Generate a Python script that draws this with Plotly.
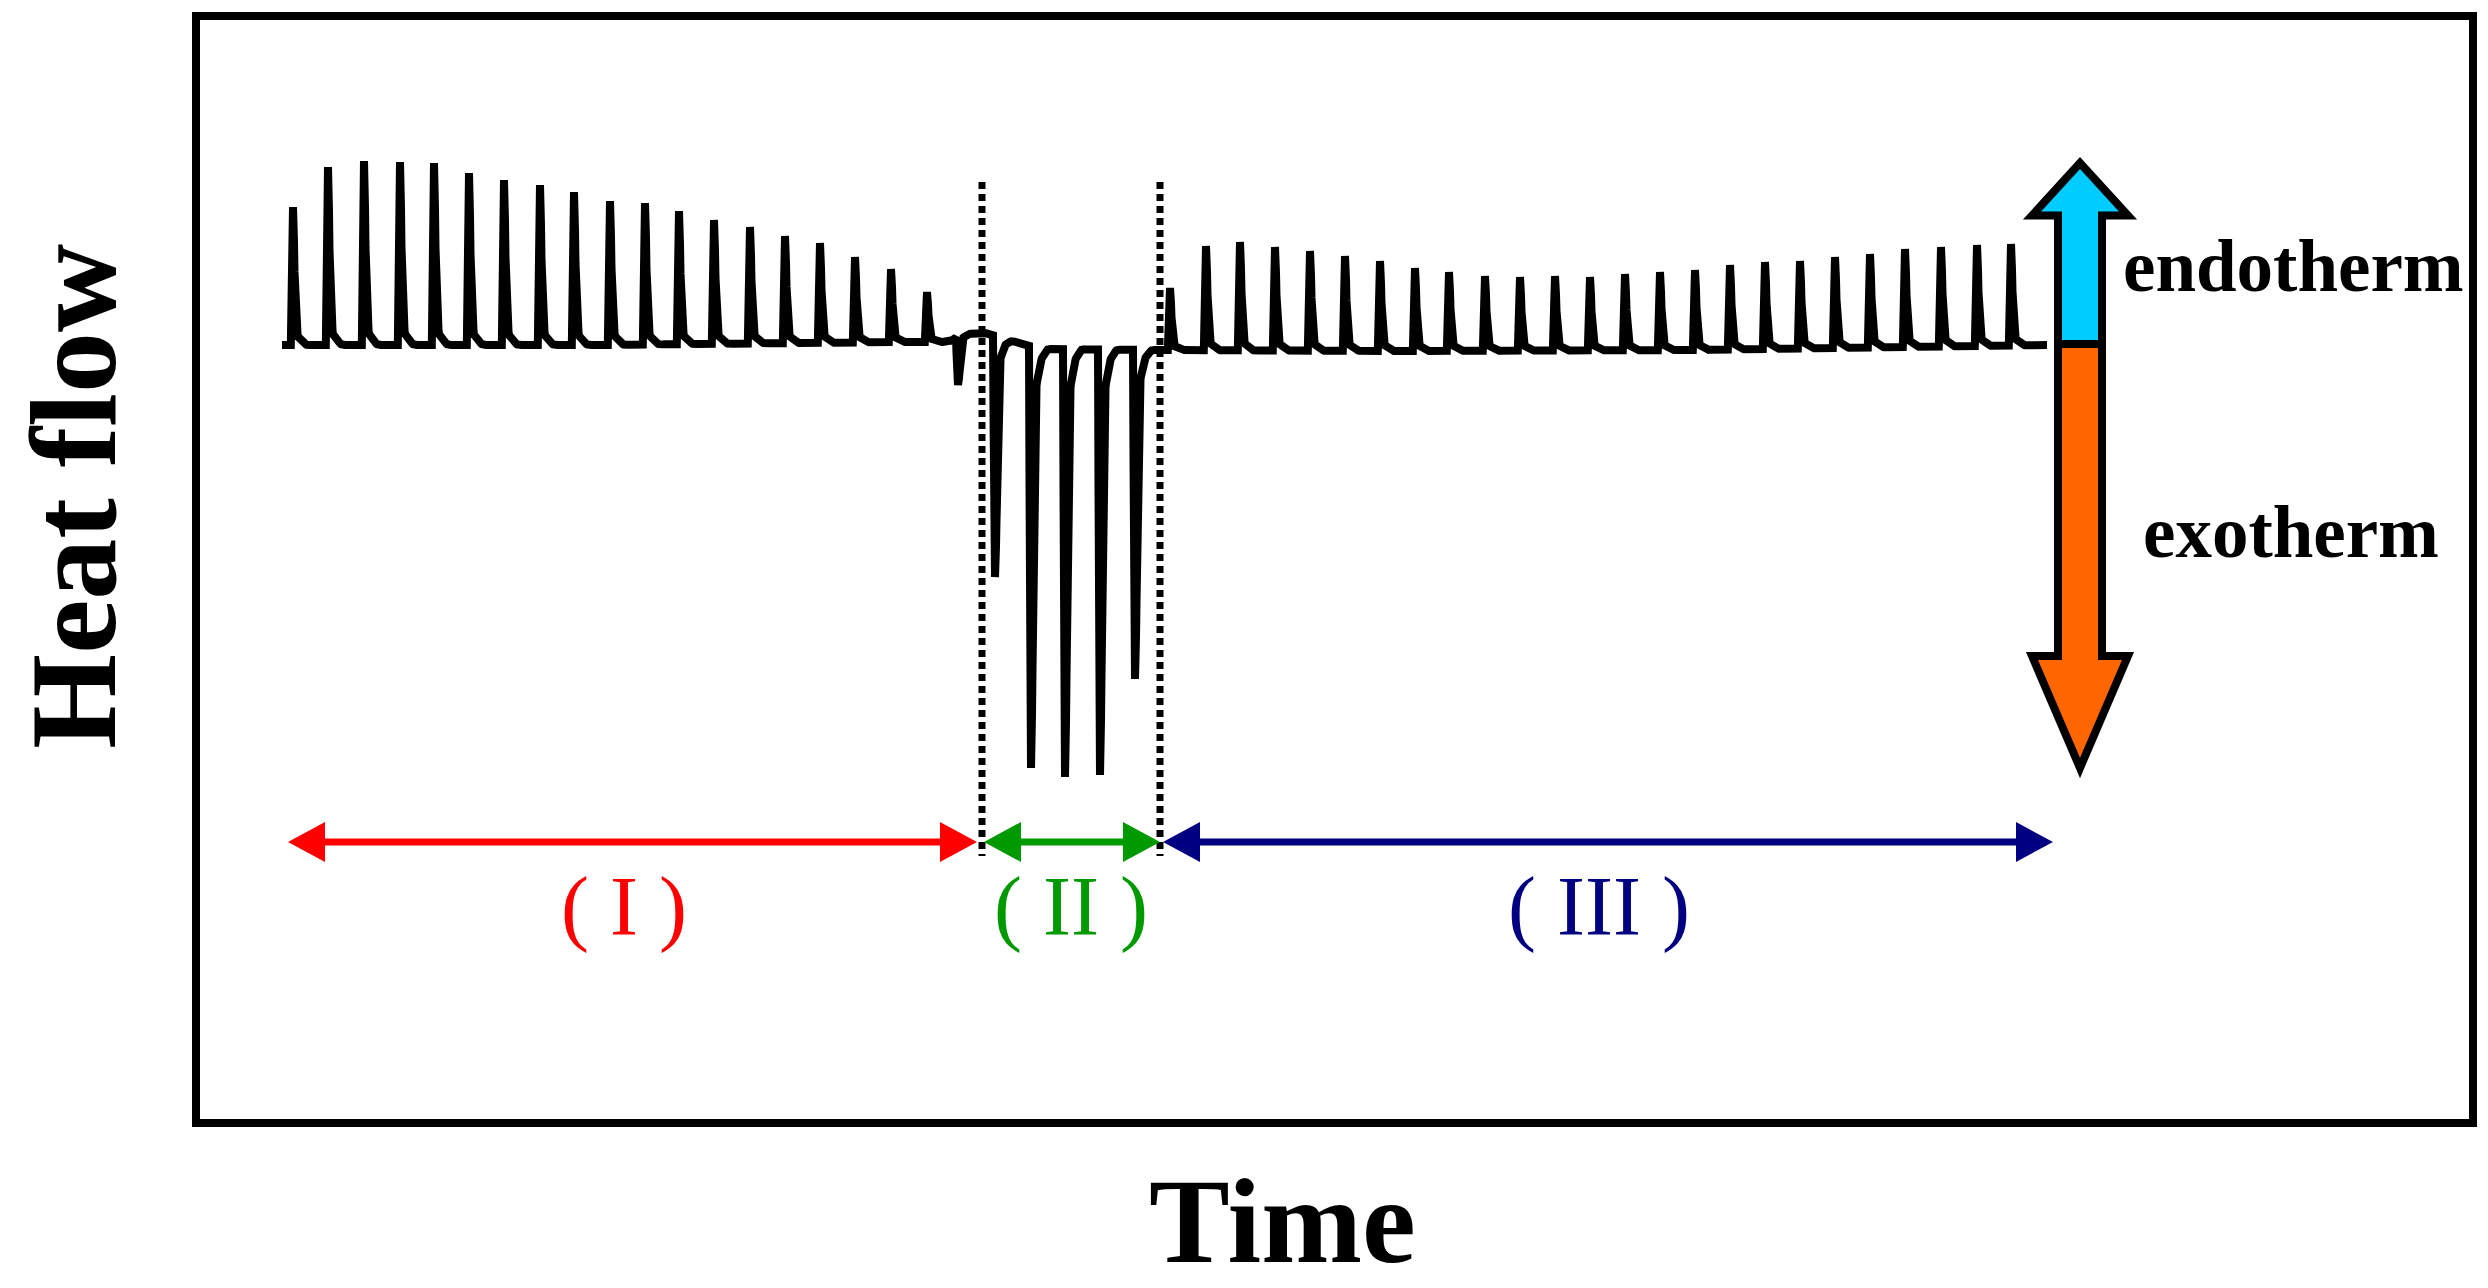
import numpy as np
import plotly.graph_objects as go

# ---------------- data (time: arbitrary min, heat flow: arbitrary units) ----------------
baseline_t = [8.6, 40.4, 70.4, 75.4, 76.6, 78.9, 84.4, 96.4, 120.4, 150.4, 170.4, 185.1]
baseline_hf = [0.1, 0.1, 0.4, 0.4, 1.3, 1.3, -0.3, -0.4, -0.5, -0.4, -0.1, 0.1]

stage1_t = [9.7, 13.2, 16.8, 20.4, 23.8, 27.3, 30.8, 34.4, 37.8, 41.4, 44.9, 48.3,
            51.8, 55.4, 58.9, 62.4, 65.9, 69.5, 73.1]
stage1_peak = [13.9, 17.9, 18.5, 18.4, 18.3, 17.3, 16.6, 16.1, 15.4, 14.5, 14.3, 13.5,
               12.6, 11.9, 11.0, 10.3, 8.9, 7.7, 5.4]

stage2_t = [76.2, 79.9, 83.5, 86.9, 90.4, 93.9]
stage2_peak = [-3.9, -23.1, -42.2, -43.1, -42.9, -33.3]

stage3_t = [97.4, 101.0, 104.4, 107.9, 111.4, 114.9, 118.4, 121.9, 125.3, 128.9, 132.4,
            135.9, 139.4, 142.9, 146.4, 149.9, 153.4, 156.9, 160.4, 163.9, 167.4, 170.9,
            174.5, 178.1, 181.5]
stage3_peak = [5.8, 10.0, 10.4, 9.9, 9.5, 9.0, 8.5, 7.8, 7.4, 7.0, 6.9, 7.0, 6.9, 7.2,
               7.4, 7.6, 8.1, 8.4, 8.5, 8.9, 9.2, 9.7, 9.9, 10.1, 10.2]

stage_bounds = [9.2, 78.6, 96.4, 185.7]
stage_labels = ["( I )", "( II )", "( III )"]
stage_label_t = [42.8, 87.5, 140.3]
stage_colors = ["#FF0000", "#009900", "#000080"]

# peak shape templates (offset from apex, fraction of apex amplitude)
endo_dt = [-0.22, -0.1, -0.03, 0.0, 0.03, 0.1, 0.18, 0.3, 0.5, 0.9, 1.4]
endo_frac = [0, 0.5, 0.95, 1.0, 0.97, 0.75, 0.4, 0.15, 0.06, 0.02, 0]
exo_dt = [-0.2, -0.07, 0.0, 0.05, 0.18, 0.32, 0.5, 0.8, 1.2, 1.7]
exo_frac = [0, 0.85, 1.0, 0.98, 0.7, 0.25, 0.1, 0.04, 0.015, 0]

# ---------------- build trace ----------------
events = [(stage1_t, stage1_peak, endo_dt, endo_frac),
          (stage2_t, stage2_peak, exo_dt, exo_frac),
          (stage3_t, stage3_peak, endo_dt, endo_frac)]
grid = [np.arange(baseline_t[0], baseline_t[-1], 0.05), np.array(baseline_t)]
for times, _, dts, _ in events:
    for t0 in times:
        grid.append(t0 + np.array(dts))
t = np.unique(np.round(np.concatenate(grid), 4))
t = t[(t >= baseline_t[0]) & (t <= baseline_t[-1])]
hf = np.interp(t, baseline_t, baseline_hf)
for times, peaks, dts, fr in events:
    for t0, p in zip(times, peaks):
        amp = p - np.interp(t0, baseline_t, baseline_hf)
        hf = hf + amp * np.interp(t - t0, dts, fr, left=0, right=0)

fig = go.Figure()
fig.add_trace(go.Scatter(x=t, y=hf, mode="lines",
                         line=dict(color="black", width=8), hoverinfo="skip",
                         showlegend=False))

shapes = []
# dotted stage separators
for xb in stage_bounds[1:3]:
    shapes.append(dict(type="line", xref="x", yref="y", x0=xb, x1=xb, y0=16.4, y1=-51.0,
                       line=dict(color="black", width=7, dash="7px,5px")))

# stage range arrows
arrow_y = -49.6
head_len, head_hw = 3.7, 2.0
starts = [stage_bounds[0], stage_bounds[1] + 0.2, stage_bounds[2] + 0.3]
ends = [stage_bounds[1] - 0.5, stage_bounds[2], stage_bounds[3]]
for a, b, c in zip(starts, ends, stage_colors):
    shapes.append(dict(type="line", xref="x", yref="y", x0=a + head_len - 0.5,
                       x1=b - head_len + 0.5, y0=arrow_y, y1=arrow_y,
                       line=dict(color=c, width=7)))
    shapes.append(dict(type="path", xref="x", yref="y",
                       path=f"M{a},{arrow_y} L{a + head_len},{arrow_y + head_hw} "
                            f"L{a + head_len},{arrow_y - head_hw} Z",
                       fillcolor=c, line=dict(width=0)))
    shapes.append(dict(type="path", xref="x", yref="y",
                       path=f"M{b},{arrow_y} L{b - head_len},{arrow_y + head_hw} "
                            f"L{b - head_len},{arrow_y - head_hw} Z",
                       fillcolor=c, line=dict(width=0)))

# endotherm / exotherm direction arrow
cx, shw, hhw = 188.4, 2.2, 4.8
up_tip, up_base, mid, dn_base, dn_tip = 18.3, 13.05, 0.2, -31.0, -42.2
shapes.append(dict(type="path", xref="x", yref="y",
                   path=(f"M{cx - shw},{mid} L{cx - shw},{up_base} L{cx - hhw},{up_base} "
                         f"L{cx},{up_tip} L{cx + hhw},{up_base} L{cx + shw},{up_base} "
                         f"L{cx + shw},{mid} Z"),
                   fillcolor="#00CCFF", line=dict(color="black", width=8)))
shapes.append(dict(type="path", xref="x", yref="y",
                   path=(f"M{cx - shw},{mid} L{cx - shw},{dn_base} L{cx - hhw},{dn_base} "
                         f"L{cx},{dn_tip} L{cx + hhw},{dn_base} L{cx + shw},{dn_base} "
                         f"L{cx + shw},{mid} Z"),
                   fillcolor="#FF6600", line=dict(color="black", width=8)))

FONT = "Liberation Serif, Times New Roman, serif"
annotations = []
for lab, lt, c in zip(stage_labels, stage_label_t, stage_colors):
    annotations.append(dict(x=lt, y=-56.1, xref="x", yref="y", text=lab, showarrow=False,
                            xanchor="center", yanchor="middle",
                            font=dict(family=FONT, size=84, color=c)))
annotations += [
    dict(x=209.7, y=8.0, xref="x", yref="y", text="<b>endotherm</b>", showarrow=False,
         xanchor="center", yanchor="middle", font=dict(family=FONT, size=73, color="black")),
    dict(x=209.5, y=-18.6, xref="x", yref="y", text="<b>exotherm</b>", showarrow=False,
         xanchor="center", yanchor="middle", font=dict(family=FONT, size=73, color="black")),
    dict(x=0.4771, y=-0.0925, xref="paper", yref="paper", text="<b>Time</b>",
         showarrow=False, xanchor="center", yanchor="middle",
         font=dict(family=FONT, size=121, color="black")),
    dict(x=-0.0559, y=0.5664, xref="paper", yref="paper", text="<b>Heat flow</b>",
         showarrow=False, textangle=-90, xanchor="center", yanchor="middle",
         font=dict(family=FONT, size=122, color="black")),
]

axis_style = dict(showline=True, mirror=True, linecolor="black", linewidth=8,
                  showticklabels=False, ticks="", showgrid=False, zeroline=False,
                  fixedrange=True)
fig.update_layout(
    width=2488, height=1288,
    margin=dict(l=200, r=19, t=20, b=169, pad=0),
    paper_bgcolor="white", plot_bgcolor="white",
    xaxis=dict(range=[0.4, 227.3], **axis_style),
    yaxis=dict(range=[-77.3, 32.6], **axis_style),
    shapes=shapes, annotations=annotations, showlegend=False,
)

fig.write_html("out.html", config={"displayModeBar": False},
               post_script="document.body.style.margin='0';document.body.style.overflow='hidden';")
